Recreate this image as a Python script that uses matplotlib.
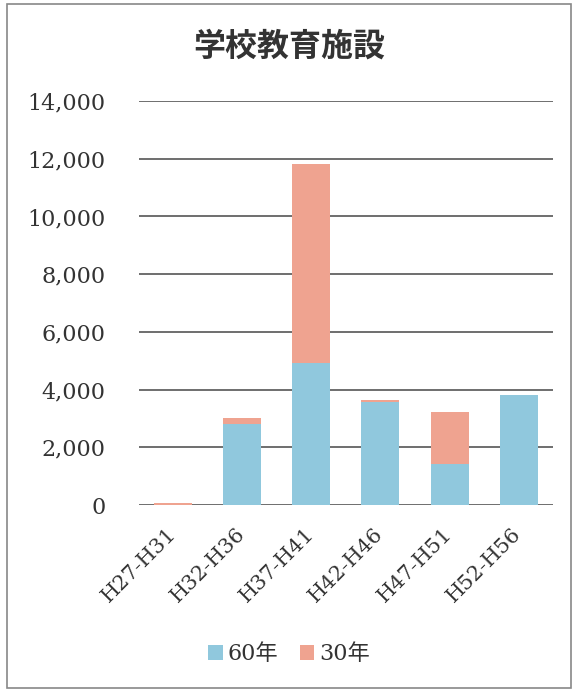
import matplotlib
matplotlib.use("Agg")
import matplotlib.pyplot as plt
from matplotlib.patches import Rectangle
import matplotlib.transforms as mtransforms
import numpy as np

categories = ["H27-H31", "H32-H36", "H37-H41", "H42-H46", "H47-H51", "H52-H56"]
v60 = [0, 2800, 4930, 3560, 1420, 3830]
v30 = [60, 230, 6900, 80, 1790, 0]
series_labels = ["60年", "30年"]
yticks = [0, 2000, 4000, 6000, 8000, 10000, 12000, 14000]

plt.rcParams['font.family'] = ['DejaVu Serif', 'Noto Sans CJK JP']

fig = plt.figure(figsize=(5.78, 6.92), dpi=100)
ax = fig.add_axes([0.240, 0.270, 0.717, 0.584])

x = np.arange(len(categories))
c60 = '#90c8dd'
c30 = '#efa390'
ax.bar(x, v60, width=0.55, color=c60, label=series_labels[0], zorder=3)
ax.bar(x, v30, width=0.55, bottom=v60, color=c30, label=series_labels[1], zorder=3)

ax.set_ylim(0, 14000)
ax.set_xlim(-0.5, len(categories) - 0.5)
ax.set_yticks(yticks)
ax.set_yticklabels([f"{t:,}" for t in yticks], fontsize=16, color='#333333')
ax.set_xticks(x)
ax.set_xticklabels(categories, rotation=45, ha='right', rotation_mode='anchor',
                   fontsize=15, color='#333333')
ax.tick_params(axis='y', length=0, pad=24)
ax.tick_params(axis='x', length=0, pad=14)
offset = mtransforms.ScaledTranslation(-5 / 72, 0, fig.dpi_scale_trans)
for lbl in ax.get_xticklabels():
    lbl.set_transform(lbl.get_transform() + offset)
ax.grid(axis='y', color='#6e6e6e', linewidth=1.4, zorder=0)
for s in ax.spines.values():
    s.set_visible(False)

fig.text(0.5, 0.932, "学校教育施設", ha='center', va='center', fontsize=23, fontweight='bold',
         color='#333333', family=['Noto Sans CJK JP'])

fig.legend(loc='center', bbox_to_anchor=(0.5, 0.055), ncol=2, frameon=False, fontsize=16,
           handlelength=0.65, handleheight=0.65, handletextpad=0.2, columnspacing=1.0,
           labelcolor='#333333')

fig.patches.append(Rectangle((0.012, 0.006), 0.976, 0.988, transform=fig.transFigure,
                             fill=False, edgecolor='#888888', linewidth=1.2))

fig.savefig("out.png", dpi=100)
